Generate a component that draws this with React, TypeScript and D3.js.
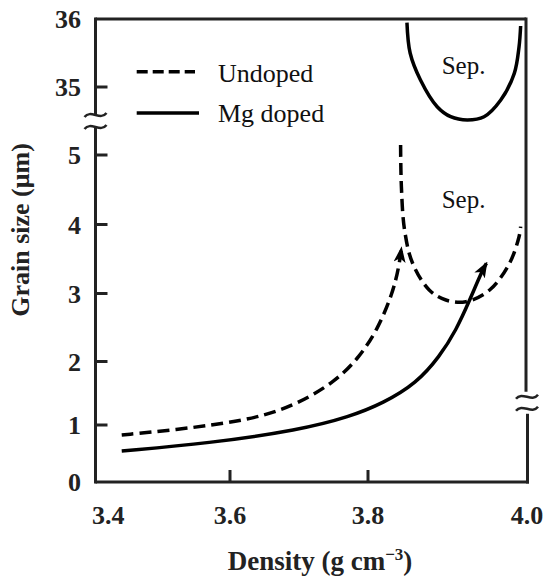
import React from 'react';
import * as d3 from 'd3';

const width = 545;
const height = 579;

// tick values
const xTickValues = [3.4, 3.6, 3.8, 4.0];
const yLowTicks = [0, 1, 2, 3, 4, 5];
const yHighTicks = [35, 36];

// curves: [density, grain size]
const undopedPath: [number, number][] = [
  [3.439, 0.825], [3.516, 0.912], [3.594, 1.027], [3.644, 1.131], [3.695, 1.315],
  [3.753, 1.682], [3.788, 2.071], [3.812, 2.47], [3.831, 3.0], [3.839, 3.39], [3.842, 3.655],
];
const mgDopedPath: [number, number][] = [
  [3.439, 0.544], [3.568, 0.679], [3.701, 0.912], [3.774, 1.131], [3.819, 1.342],
  [3.861, 1.657], [3.89, 2.071], [3.911, 2.463], [3.928, 2.904], [3.943, 3.316], [3.949, 3.438],
];
// separation boundary, undoped (lower part of axis)
const sepUndoped: [number, number][] = [
  [3.841, 5.144], [3.842, 4.544], [3.846, 3.92], [3.856, 3.442], [3.877, 3.051],
  [3.898, 2.904], [3.923, 2.879], [3.953, 3.051], [3.978, 3.438], [3.99, 3.823], [3.992, 3.968],
];
// separation boundary, Mg doped (upper part of axis)
const sepMgDoped: [number, number][] = [
  [3.849, 35.946], [3.853, 35.5], [3.866, 35.103], [3.887, 34.71], [3.904, 34.563],
  [3.925, 34.515], [3.946, 34.563], [3.967, 34.809], [3.984, 35.201], [3.99, 35.593], [3.992, 35.897],
];

const x = d3.scaleLinear().domain([3.4, 3.6, 3.8, 4.0]).range([95.5, 230, 368, 527]);
const yLow = d3.scaleLinear().domain([0, 1, 2, 3, 4, 5]).range([482, 425, 361.5, 293.5, 224.5, 155]);
const yHigh = d3.scaleLinear().domain([35, 36]).range([87, 19]);

const trendLine = d3.line<[number, number]>()
  .x(d => x(d[0]))
  .y(d => yLow(d[1]))
  .curve(d3.curveBasis);
const lineLow = d3.line<[number, number]>()
  .x(d => x(d[0]))
  .y(d => yLow(d[1]))
  .curve(d3.curveCatmullRom.alpha(0.5));
const lineHigh = d3.line<[number, number]>()
  .x(d => x(d[0]))
  .y(d => yHigh(d[1]))
  .curve(d3.curveCatmullRom.alpha(0.5));

const serif = '"Liberation Serif", "Times New Roman", serif';
const axisColor = '#222';

// little "~" used for axis breaks
const tilde = (cx: number, cy: number) =>
  `M${cx - 11},${cy + 2} C${cx - 5},${cy - 6} ${cx + 5},${cy + 6} ${cx + 11},${cy - 2}`;

const App = () => {
  const x0 = x(3.4);
  const x1 = x(4.0);
  const yBottom = yLow(0);
  const yTop = yHigh(36);
  const leftBreak = (yLow(5) + yHigh(35)) / 2;
  const rightBreak = yLow(1.35);

  return (
    <svg width={width} height={height} style={{ position: 'absolute', left: 0, top: 0, background: '#fff' }}>
      <defs>
        <marker id="arrow" markerUnits="userSpaceOnUse" markerWidth={16} markerHeight={12}
          viewBox="0 0 16 12" refX={14} refY={6} orient="auto">
          <path d="M0,0 L16,6 L0,12 L4,6 Z" fill="#000" />
        </marker>
      </defs>

      {/* frame */}
      <g stroke={axisColor} strokeWidth={3} fill="none">
        <line x1={x0} x2={x0} y1={yBottom + 1.5} y2={leftBreak + 7} />
        <line x1={x0} x2={x0} y1={leftBreak - 7} y2={yTop - 1.5} />
        <line x1={x0} x2={x1 - 1} y1={yTop} y2={yTop} />
        <line x1={x1 - 1} x2={x1 - 1} y1={yTop - 1.5} y2={rightBreak - 11} />
        <line x1={x1 + 0.5} x2={x1 + 0.5} y1={rightBreak + 11} y2={yBottom + 1.5} />
        <line x1={x0} x2={x1 + 2} y1={yBottom} y2={yBottom} />
        <path d={tilde(x0, leftBreak - 6)} strokeWidth={2.5} />
        <path d={tilde(x0, leftBreak + 6)} strokeWidth={2.5} />
        <path d={tilde(x1, rightBreak - 6)} strokeWidth={2.5} />
        <path d={tilde(x1, rightBreak + 6)} strokeWidth={2.5} />
        {yLowTicks.filter(t => t > 0).map(t => (
          <line key={t} x1={x0} x2={x0 + 12} y1={yLow(t)} y2={yLow(t)} />
        ))}
        <line x1={x0} x2={x0 + 12} y1={yHigh(35)} y2={yHigh(35)} />
        {xTickValues.slice(1, -1).map(t => (
          <line key={t} x1={x(t)} x2={x(t)} y1={yBottom} y2={yBottom - 12} />
        ))}
      </g>

      {/* tick labels */}
      <g fontFamily={serif} fontWeight="bold" fontSize={26} fill="#222">
        {yLowTicks.map(t => (
          <text key={t} x={81} y={yLow(t)} dy="0.35em" textAnchor="end">{t}</text>
        ))}
        {yHighTicks.map(t => (
          <text key={t} x={81} y={yHigh(t)} dy="0.35em" textAnchor="end">{t}</text>
        ))}
        {xTickValues.map((t, i) => (
          <text key={t} x={i === 0 ? x(t) - 3.5 : x(t)} y={524}
            textAnchor={i === 0 ? 'start' : 'middle'}>{t.toFixed(1)}</text>
        ))}
      </g>

      {/* axis titles */}
      <text x={320} y={570} textAnchor="middle" fontFamily={serif} fontWeight="bold" fontSize={27} fill="#222">
        Density (g cm<tspan dy={-10} fontSize={17}>−3</tspan><tspan dy={10}>)</tspan>
      </text>
      <text transform={`translate(28.5,230) rotate(-90)`} textAnchor="middle"
        fontFamily={serif} fontWeight="bold" fontSize={26} fill="#222">
        Grain size (μm)
      </text>

      {/* curves */}
      <g fill="none" stroke="#000" strokeWidth={3.5}>
        <path d={trendLine(undopedPath) || ''} strokeDasharray="12 6" markerEnd="url(#arrow)" />
        <path d={trendLine(mgDopedPath) || ''} markerEnd="url(#arrow)" />
        <path d={lineLow(sepUndoped) || ''} strokeDasharray="12 6" />
        <path d={lineHigh(sepMgDoped) || ''} />
      </g>

      {/* Sep. labels */}
      <g fontFamily={serif} fontSize={25} fill="#111">
        <text x={441.7} y={74}>Sep.</text>
        <text x={441.7} y={208}>Sep.</text>
      </g>

      {/* legend */}
      <g stroke="#000" strokeWidth={3.5}>
        <line x1={136.7} x2={195} y1={71.7} y2={71.7} strokeDasharray="11 5" />
        <line x1={136.7} x2={199} y1={113} y2={113} />
      </g>
      <g fontFamily={serif} fontSize={26} fill="#111">
        <text x={218} y={81.5}>Undoped</text>
        <text x={218} y={121.7}>Mg doped</text>
      </g>
    </svg>
  );
};

export default App;
